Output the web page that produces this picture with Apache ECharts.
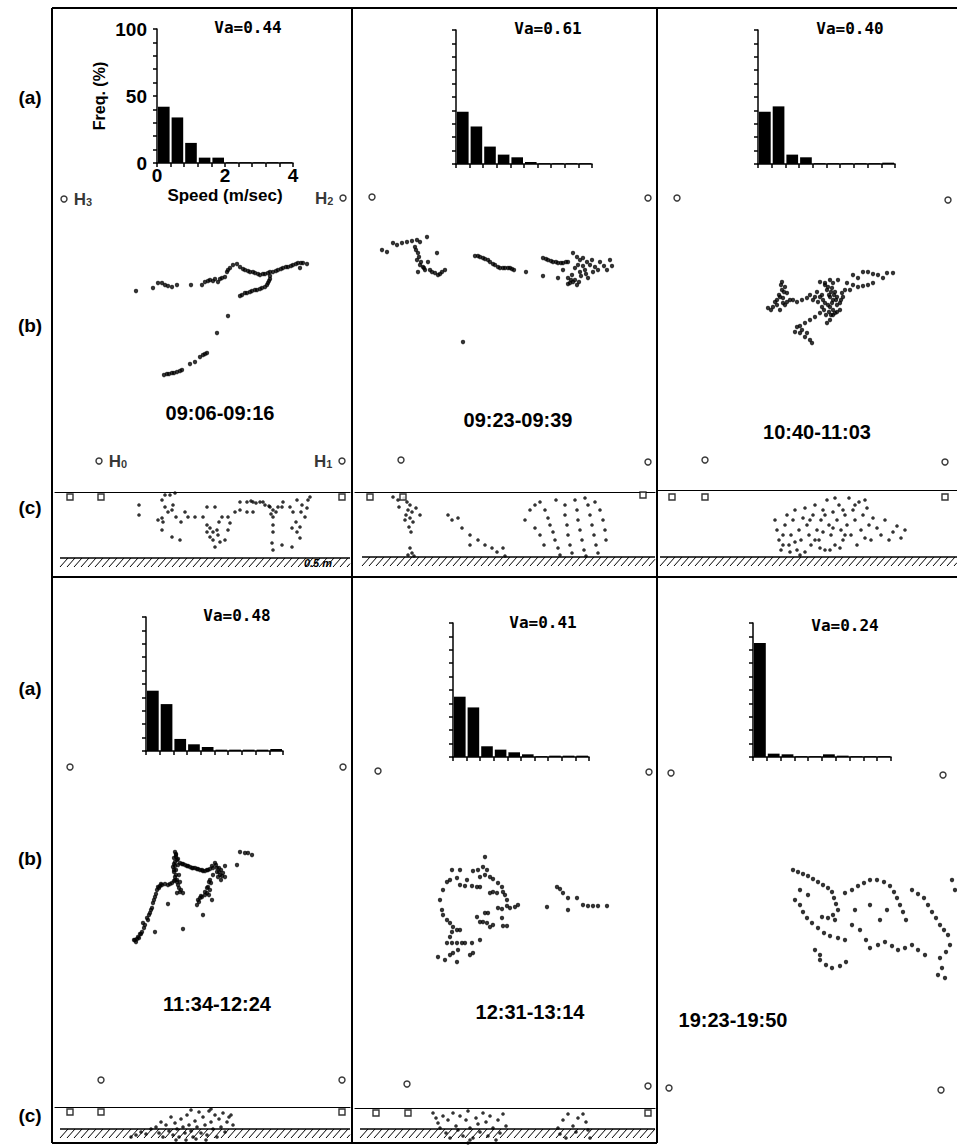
<!DOCTYPE html>
<html><head><meta charset="utf-8">
<script src="https://cdn.jsdelivr.net/npm/echarts@6/dist/echarts.min.js"></script>
<style>html,body{margin:0;padding:0;background:#fff}#c{width:957px;height:1148px}</style>
</head><body><div id="c"></div>
<script>
// ---------------- DATA ----------------
const speedBins = [0.2,0.6,1.0,1.4,1.8,2.2,2.6,3.0,3.4,3.8];
const freqA = [42,34,15,4,4,0.6,0.6,0.6,0.6,0.6];
const freqB = [39,28,13,7,5,1.5,0.6,0.6,0.6,0.6];
const freqC = [39,43,7,5,0.6,0.6,0.6,0.6,0.6,1];
const freqD = [45,35,9,5,3,1,1,1,1,1.5];
const freqE = [45,37,8,5.5,3.5,2,0.6,1,1,1];
const freqF = [85,2.5,2,0.6,0.6,2,1,0.6,0.6,0.6];
const vaLabels = ['Va=0.44','Va=0.61','Va=0.40','Va=0.48','Va=0.41','Va=0.24'];
const timeLabels = ['09:06-09:16','09:23-09:39','10:40-11:03','11:34-12:24','12:31-13:14','19:23-19:50'];
const rowLabels = ['(a)','(b)','(c)'];
const hydroNames = ['H0','H1','H2','H3'];
const speedLabelTicks = [0,2,4];
const freqLabelTicks = [0,50,100];

// hydrophone positions (plan view, origin at H0)
const hydA = [[0,0],[243,0],[244,263],[-35,262]];
const hydB = [[0,0],[247,-2],[247,262],[-29,263]];
const hydC = [[0,0],[240,-2],[243,260],[-28,262]];
const hydD = [[0,0],[241,0],[242,313],[-31,313]];
const hydE = [[0,0],[241,-2],[242,312],[-29,313]];
const hydF = [[0,0],[272,-2],[274,313],[2,315]];

// fish trajectories (plan view)
const trajA = [[37,170],[54,173],[59,178],[63,178],[66,176],[69,175],[73,174],[78,176],[92,176],[103,176],[106,179],[109,180],[111,181],[114,180],[116,182],[119,179],[121,182],[123,183],[126,184],[128,189],[129,191],[131,193],[134,196],[138,197],[141,194],[144,192],[146,191],[149,190],[151,189],[154,189],[156,188],[159,187],[161,186],[164,187],[166,187],[169,188],[171,189],[174,189],[177,190],[179,191],[182,192],[184,193],[187,194],[189,194],[192,195],[194,196],[197,197],[199,198],[202,198],[204,198],[208,197],[201,193],[171,185],[171,182],[170,180],[169,178],[168,176],[166,174],[163,173],[161,172],[158,171],[156,171],[153,170],[151,169],[148,168],[146,168],[143,166],[141,165],[129,145],[118,128],[108,108],[106,107],[104,106],[101,104],[96,99],[91,97],[83,91],[81,90],[78,89],[75,88],[73,88],[70,87],[68,87],[65,86]];
const trajB = [[-19,210],[-14,208],[-8,217],[-4,215],[1,217],[6,218],[11,219],[16,220],[19,218],[26,223],[14,213],[17,207],[16,200],[19,195],[17,188],[22,193],[27,198],[29,190],[34,187],[37,185],[41,188],[44,190],[36,207],[24,190],[20,198],[23,192],[31,188],[39,186],[18,203],[15,210],[74,204],[77,204],[79,203],[82,202],[84,201],[87,200],[89,198],[92,196],[94,195],[97,193],[99,192],[102,192],[104,192],[107,192],[109,192],[111,191],[113,190],[125,188],[142,184],[62,118],[142,202],[145,201],[147,200],[150,199],[152,198],[155,198],[157,197],[160,197],[162,197],[165,198],[167,198],[172,207],[176,203],[179,200],[182,202],[186,198],[189,195],[194,193],[197,190],[184,190],[179,188],[171,185],[167,182],[172,178],[176,175],[169,177],[157,182],[187,182],[206,190],[209,200],[174,192],[177,195],[182,194],[191,200],[199,198],[203,194],[211,194],[167,176],[174,180],[162,190],[170,180],[178,178],[180,184],[185,186],[192,188]];
const trajC = [[63,152],[68,153],[72,160],[75,163],[77,170],[77,178],[80,173],[82,167],[78,157],[75,150],[85,160],[92,158],[97,160],[102,162],[105,165],[115,178],[120,177],[125,180],[128,177],[133,180],[122,170],[125,163],[120,157],[125,153],[128,160],[132,163],[135,157],[130,147],[125,140],[122,137],[135,150],[137,167],[140,170],[115,163],[117,153],[115,147],[110,143],[105,140],[100,137],[95,134],[92,133],[90,128],[95,127],[100,123],[105,120],[107,117],[102,127],[97,130],[148,185],[153,182],[158,188],[163,188],[168,186],[173,185],[178,182],[182,187],[188,187],[148,175],[153,173],[158,174],[163,175],[168,177],[145,170],[142,177],[127,172],[130,168],[124,165],[118,160],[128,150],[132,155],[121,145],[126,145],[110,163],[112,168],[80,155],[70,158],[74,165],[66,150],[120,175],[123,173],[126,168],[129,165],[131,160],[127,157],[123,155],[119,150],[124,148],[128,145],[132,148],[136,160],[138,163],[117,165],[113,158],[108,160],[88,160],[82,158],[78,162],[72,155],[76,175],[79,168]];
const trajD = [[34,140],[37,143],[41,148],[42,157],[46,162],[49,167],[51,172],[52,177],[54,183],[56,190],[57,193],[61,195],[64,196],[67,195],[71,197],[74,200],[74,228],[75,223],[74,218],[72,213],[73,208],[74,203],[76,200],[77,195],[79,188],[82,187],[76,187],[79,217],[84,215],[89,213],[94,212],[99,210],[104,209],[109,211],[114,217],[116,212],[119,205],[124,203],[112,205],[109,200],[107,193],[109,190],[106,187],[101,183],[97,180],[96,175],[111,180],[67,176],[102,165],[54,148],[82,151],[124,214],[136,215],[139,228],[144,227],[151,225],[147,227],[36,141],[39,146],[44,155],[47,160],[53,180],[55,186],[59,194],[69,196],[73,199],[75,210],[73,216],[75,226],[77,221],[81,216],[86,214],[91,212],[96,211],[101,210],[106,210],[111,214],[115,215],[118,208],[121,204],[110,197],[108,185],[104,185],[99,182],[75,225],[76,220],[74,214],[73,210],[75,205],[76,198],[78,192],[80,190],[73,222],[77,215],[78,205],[79,198],[82,216],[87,214],[92,212],[97,211],[102,209],[107,210],[112,212],[116,208],[118,212],[120,210],[122,207],[117,203],[120,200],[108,198],[106,192],[104,188],[100,184],[98,178],[58,192],[60,196],[48,165],[50,170],[43,152],[40,146],[38,142],[35,138],[33,140]];
const trajE = [[78,227],[76,217],[71,214],[66,213],[80,214],[73,207],[78,209],[83,207],[86,205],[91,201],[95,197],[96,192],[98,189],[100,184],[100,178],[103,176],[108,177],[111,179],[91,176],[95,175],[86,192],[90,191],[83,191],[70,197],[73,197],[65,198],[58,198],[53,199],[60,204],[53,214],[45,214],[43,204],[40,202],[50,206],[36,194],[33,184],[35,174],[36,169],[40,164],[43,161],[46,157],[45,152],[50,154],[53,154],[43,147],[40,141],[45,141],[50,141],[55,141],[51,134],[46,131],[31,127],[38,124],[43,129],[50,122],[58,141],[65,141],[63,129],[66,131],[73,144],[70,167],[73,162],[76,162],[80,161],[83,157],[86,159],[81,171],[78,171],[96,158],[100,158],[95,166],[140,177],[150,197],[153,195],[156,191],[161,186],[170,186],[161,174],[176,179],[181,178],[186,178],[191,178],[200,178]];
const trajF = [[124,218],[129,216],[134,214],[139,212],[144,209],[149,206],[154,203],[159,200],[163,196],[165,190],[167,184],[169,178],[164,173],[159,170],[153,171],[166,168],[126,188],[131,183],[134,176],[138,170],[143,165],[149,160],[155,155],[161,152],[169,150],[176,148],[176,195],[183,198],[189,202],[195,205],[201,208],[208,208],[215,206],[221,202],[225,196],[228,190],[231,183],[234,176],[237,168],[243,198],[249,194],[255,190],[259,183],[263,176],[267,170],[271,163],[275,158],[279,153],[281,143],[277,136],[271,130],[273,120],[276,110],[269,113],[283,208],[286,198],[191,158],[197,148],[201,140],[209,143],[216,146],[223,142],[229,138],[236,140],[243,143],[249,138],[256,133],[151,128],[157,123],[163,120],[171,122],[177,126],[151,133],[146,138],[211,168],[218,178],[201,183],[186,178],[183,163],[131,198],[139,193]];

// side views (x along tank, depth below surface)
const sqA = [[-31,5],[0,5],[241,5]];
const sqB = [[-33,5],[0,5],[240,3]];
const sqC = [[-33,7],[0,7],[240,7]];
const sqD = [[-31,5],[0,5],[241,5]];
const sqE = [[-32,5],[0,5],[240,5]];
const sideA = [[38,13],[38,23],[61,8],[64,3],[69,3],[64,15],[67,20],[61,26],[57,28],[62,30],[71,18],[72,13],[61,38],[71,45],[79,48],[84,20],[87,25],[94,25],[106,15],[114,15],[102,25],[106,33],[109,36],[106,40],[109,45],[112,48],[114,55],[119,50],[117,43],[112,40],[121,25],[127,25],[129,31],[127,38],[124,48],[134,20],[139,18],[146,20],[152,20],[139,10],[146,10],[152,10],[159,10],[164,13],[169,15],[172,18],[172,25],[172,33],[172,40],[171,51],[172,58],[181,15],[182,10],[181,53],[189,15],[192,20],[196,8],[201,13],[206,16],[207,8],[209,5],[191,36],[196,40],[199,35],[199,46],[191,55],[74,1],[150,9],[155,11],[162,10],[168,14],[170,22],[175,20],[177,15],[200,20],[204,25],[195,30],[75,25],[80,30],[118,30],[116,38]];
const sideB = [[-10,5],[-5,8],[1,6],[4,10],[7,13],[5,18],[9,20],[3,23],[7,26],[10,30],[6,35],[8,40],[2,28],[-4,15],[13,16],[17,23],[7,56],[9,61],[11,64],[5,63],[45,23],[49,28],[55,26],[59,36],[67,43],[75,48],[82,53],[89,56],[94,60],[100,56],[102,64],[67,53],[122,28],[127,18],[132,13],[137,10],[142,18],[145,26],[147,33],[150,40],[152,48],[155,56],[157,63],[162,13],[162,23],[164,33],[165,43],[167,53],[169,61],[172,8],[174,18],[175,28],[177,38],[179,48],[181,58],[183,64],[185,13],[187,23],[189,33],[191,43],[193,53],[195,61],[197,18],[200,28],[202,38],[203,48],[141,53],[137,43],[132,36],[153,8],[182,6],[192,10]];
const sideC = [[70,30],[72,40],[74,50],[76,60],[78,45],[80,35],[82,25],[84,55],[86,45],[88,30],[90,20],[92,60],[94,40],[96,50],[98,28],[100,18],[102,35],[104,45],[106,55],[108,25],[110,15],[112,40],[114,50],[116,30],[118,20],[120,60],[122,10],[124,35],[126,45],[128,22],[130,55],[132,30],[134,15],[136,40],[138,50],[140,25],[142,35],[144,8],[146,45],[148,20],[150,30],[152,55],[154,12],[156,40],[158,25],[160,48],[162,18],[164,35],[166,50],[168,28],[172,38],[176,45],[180,30],[184,50],[188,42],[192,36],[196,48],[200,40],[110,50],[115,58],[125,60],[135,58],[100,62],[90,52],[95,65],[105,30],[118,42],[128,38],[138,20],[150,15],[160,10],[130,8],[120,25],[140,45],[85,62],[78,55]];
const sideD = [[30,30],[35,28],[40,25],[45,27],[50,22],[55,20],[58,26],[60,15],[62,30],[65,18],[68,24],[70,10],[72,28],[74,16],[76,22],[78,30],[80,12],[82,20],[84,26],[86,8],[88,18],[90,24],[92,30],[94,14],[96,20],[98,5],[100,26],[102,10],[104,18],[106,28],[108,4],[110,15],[112,22],[114,8],[116,30],[118,12],[120,20],[122,6],[124,25],[126,15],[128,10],[75,33],[85,33],[95,32],[105,33],[90,3],[110,2],[130,8],[132,18]];
const sideE = [[25,5],[28,10],[30,15],[32,20],[35,8],[38,25],[40,12],[42,30],[45,5],[48,18],[50,22],[52,8],[55,28],[58,12],[60,3],[62,20],[65,30],[68,10],[70,16],[72,24],[75,5],[78,14],[80,28],[82,8],[85,20],[88,32],[90,12],[92,25],[95,6],[98,18],[60,35],[62,32],[150,20],[152,26],[155,12],[158,30],[160,6],[165,18],[168,24],[170,10],[175,6],[178,14],[180,22],[182,30]];

// ---------------- LAYOUT ----------------
const FONT = 'Liberation Sans, Arial, sans-serif';
const panels = [
  {hist:[157,29,136,134], va:[248,27], b:{h0:[99,461], x:[-45,255], y:[-10,275]}, c:{o:[101,492], x:[-46,249], d:65, hatch:[60,350,558]}, time:[220,413]},
  {hist:[456,30,136,134], va:[548,28], b:{h0:[401,460], x:[-45,255], y:[-10,275]}, c:{o:[403,492], x:[-48,252], d:65, hatch:[362,655,557]}, time:[518,420]},
  {hist:[758,30,137,134], va:[850,28], b:{h0:[705,460], x:[-45,250], y:[-10,275]}, c:{o:[705,490], x:[-47,252], d:67, hatch:[660,957,557]}, time:[817,432]},
  {hist:[146,617,137,134], va:[237,615], b:{h0:[101,1080], x:[-45,250], y:[-10,325]}, c:{o:[101,1107], x:[-46,249], d:22, hatch:[60,350,1129]}, time:[217,1004]},
  {hist:[453,623,136,134], va:[543,622], b:{h0:[407,1084], x:[-45,250], y:[-10,325]}, c:{o:[408,1108], x:[-53,247], d:21, hatch:[360,655,1129]}, time:[530,1012]},
  {hist:[753,623,138,134], va:[845,625], b:{h0:[669,1088], x:[-10,285], y:[-10,325]}, c:null, time:[733,1020]}
];
const freqs = [freqA,freqB,freqC,freqD,freqE,freqF];
const hyds = [hydA,hydB,hydC,hydD,hydE,hydF];
const trajs = [trajA,trajB,trajC,trajD,trajE,trajF];
const sides = [sideA,sideB,sideC,sideD,sideE,null];
const sqs = [sqA,sqB,sqC,sqD,sqE,null];

const grids=[], xAxes=[], yAxes=[], series=[], graphics=[];
function addGrid(g, xa, ya){
  grids.push(Object.assign({containLabel:false, show:false}, g));
  const gi = grids.length-1;
  xa.gridIndex = gi; ya.gridIndex = gi;
  xAxes.push(xa); yAxes.push(ya);
  return gi;
}
const hidden = {show:false};
const blackLine = {show:true, onZero:false, lineStyle:{color:'#000', width:1.5}};

panels.forEach((p,i)=>{
  // ---- (a) histogram
  const L = p.hist;
  const first = i===0;
  const gi = addGrid({left:L[0], top:L[1], width:L[2], height:L[3]},
    {type:'value', min:0, max:4, interval:0.4, axisLine:blackLine,
     axisTick:{show:true, length:4, lineStyle:{color:'#000', width:1.5}}, splitLine:hidden,
     axisLabel:{show:first, margin:3, color:'#000', fontWeight:'bold', fontSize:19, fontFamily:FONT,
       formatter:v=>{const r=Math.round(v); return (Math.abs(v-r)<1e-6 && speedLabelTicks.includes(r))? String(r):'';}},
     name: first?'Speed (m/sec)':'', nameLocation:'middle', nameGap:24, nameMoveOverlap:false,
     nameTextStyle:{color:'#000', fontWeight:'bold', fontSize:17, fontFamily:FONT}},
    {type:'value', min:0, max:100, interval:10, axisLine:blackLine,
     axisTick:{show:true, length:4, lineStyle:{color:'#000', width:1.5}}, splitLine:hidden,
     axisLabel:{show:first, margin:10, color:'#000', fontWeight:'bold', fontSize:19, fontFamily:FONT,
       formatter:v=> freqLabelTicks.includes(v)? String(v):''},
     name: first?'Freq. (%)':'', nameLocation:'middle', nameGap:50, nameRotate:90, nameMoveOverlap:false,
     nameTextStyle:{color:'#000', fontWeight:'bold', fontSize:16, fontFamily:FONT}}
  );
  series.push({type:'bar', xAxisIndex:gi, yAxisIndex:gi, barWidth:L[2]/10-2,
    data: speedBins.map((s,j)=>[s, freqs[i][j]]), itemStyle:{color:'#000'}});

  // ---- (b) plan view
  const b = p.b;
  const gb = addGrid({left:b.h0[0]+b.x[0], top:b.h0[1]-b.y[1], width:b.x[1]-b.x[0], height:b.y[1]-b.y[0]},
    {type:'value', min:b.x[0], max:b.x[1], show:false},
    {type:'value', min:b.y[0], max:b.y[1], show:false});
  series.push({type:'scatter', xAxisIndex:gb, yAxisIndex:gb, symbolSize:4.4, clip:false,
    data: trajs[i], itemStyle:{color:'#000'}});
  series.push({type:'scatter', xAxisIndex:gb, yAxisIndex:gb, symbol:'circle', symbolSize:6, clip:false,
    data: hyds[i].map((h,k)=>({value:h, name:hydroNames[k], label:{position:(k===1||k===2)?'left':'right'}})),
    itemStyle:{color:'#fff', borderColor:'#000', borderWidth:1.4},
    label:{show:first, formatter:d=>'{h|H}{s|'+d.name.slice(1)+'}',
      distance:6, color:'#000', textBorderWidth:0,
      rich:{h:{fontSize:17, fontWeight:'bold', fontFamily:FONT, color:'#000'},
            s:{fontSize:11, fontWeight:'bold', fontFamily:FONT, color:'#000', padding:[6,0,0,0]}}}
  });

  // ---- (c) side view
  if (p.c){
    const c = p.c;
    const gc = addGrid({left:c.o[0]+c.x[0], top:c.o[1], width:c.x[1]-c.x[0], height:c.d},
      {type:'value', min:c.x[0], max:c.x[1], position:'top', axisLine:{show:true, onZero:false, lineStyle:{color:'#000', width:1.2}},
       axisTick:hidden, axisLabel:hidden, splitLine:hidden},
      {type:'value', min:0, max:c.d, inverse:true, show:false});
    series.push({type:'scatter', xAxisIndex:gc, yAxisIndex:gc, symbolSize:3.6, clip:false,
      data: sides[i], itemStyle:{color:'#000'}});
    series.push({type:'scatter', xAxisIndex:gc, yAxisIndex:gc, symbol:'rect', symbolSize:6, clip:false,
      data: sqs[i], itemStyle:{color:'#fff', borderColor:'#000', borderWidth:1.4}});
    // hatched bottom
    const [hx0,hx1,hy] = c.hatch;
    graphics.push({type:'line', shape:{x1:hx0, y1:hy, x2:hx1, y2:hy}, style:{stroke:'#000', lineWidth:1.3}});
    for (let x=hx0; x<hx1-2; x+=7){
      const x2 = Math.min(x+8, hx1);
      graphics.push({type:'line', shape:{x1:x, y1:hy+9, x2:x2, y2:hy+9-(x2-x)*9/8}, style:{stroke:'#000', lineWidth:1}});
    }
  }

  // texts
  graphics.push({type:'text', x:p.va[0], y:p.va[1], style:{text:vaLabels[i], fill:'#000', font:'bold 16px "DejaVu Sans Mono", monospace', textAlign:'center', textVerticalAlign:'middle'}});
  graphics.push({type:'text', x:p.time[0], y:p.time[1], style:{text:timeLabels[i], fill:'#000', font:'bold 20px '+FONT, textAlign:'center', textVerticalAlign:'middle'}});
});

// row labels
[[97,325,507],[688,858,1115]].forEach(ys=>{
  ys.forEach((y,k)=>graphics.push({type:'text', x:30, y:y, style:{text:rowLabels[k], fill:'#000', font:'bold 19px '+FONT, textAlign:'center', textVerticalAlign:'middle'}}));
});
// scale label
graphics.push({type:'text', x:318, y:563, style:{text:'0.5 m', fill:'#000', font:'italic bold 11px '+FONT, textAlign:'center', textVerticalAlign:'middle'}});
// frame lines
[[52,8,957,8],[52,8,52,1143],[352,8,352,1143],[657,8,657,1143],[52,577,957,577],[52,1143,657,1143]].forEach(l=>{
  graphics.push({type:'line', shape:{x1:l[0],y1:l[1],x2:l[2],y2:l[3]}, style:{stroke:'#000', lineWidth:2}});
});

const chart = echarts.init(document.getElementById('c'), null, {renderer:'svg'});
chart.setOption({
  animation:false,
  backgroundColor:'#fff',
  grid:grids, xAxis:xAxes, yAxis:yAxes, series:series,
  graphic:{elements:graphics}
});
</script></body></html>
